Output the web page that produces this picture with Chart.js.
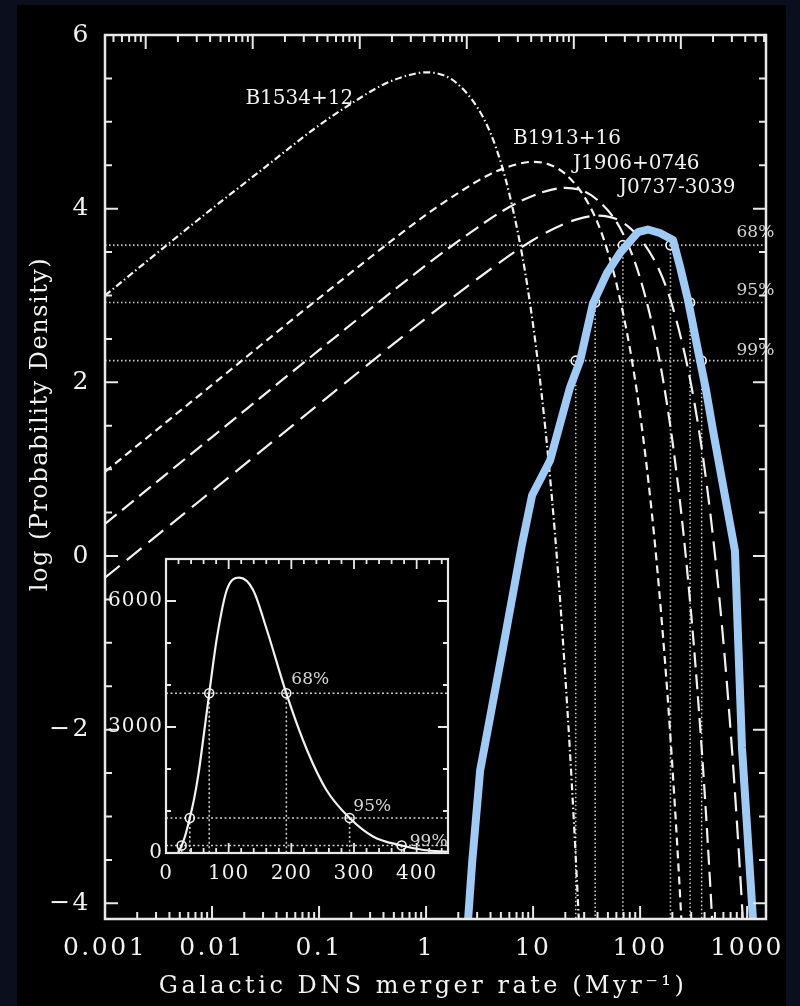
<!DOCTYPE html>
<html><head><meta charset="utf-8">
<script src="https://cdn.jsdelivr.net/npm/chart.js@4.4.1/dist/chart.umd.min.js"></script>
<style>
html,body{margin:0;padding:0;background:#0b0f1d;width:800px;height:1006px;overflow:hidden;}
#bg{position:absolute;left:17px;top:5px;width:769px;height:1001px;background:#000;}
#main{position:absolute;left:0;top:0;}
#inset{position:absolute;left:100px;top:540px;}
</style></head><body>
<div id="bg"></div>
<canvas id="main" width="800" height="1006"></canvas>
<canvas id="inset" width="370" height="360"></canvas>
<script>
// ---------------- data ----------------
const rateTicks = [0.001, 0.01, 0.1, 1, 10, 100, 1000];
const logPTicks = [-4, -2, 0, 2, 4, 6];

const pulsarNames = ['B1534+12', 'B1913+16', 'J1906+0746', 'J0737-3039'];

const b1534Rate = [0.001,0.003,0.01,0.03,0.1,0.2,0.4,0.7,1,1.5,2,3,4,5,6,8,10,12,14,16,18,20,22,24,26,28];
const b1534LogP = [3.00,3.48,4.00,4.46,4.96,5.21,5.43,5.54,5.57,5.53,5.43,5.17,4.87,4.53,4.17,3.43,2.66,1.87,1.07,0.26,-0.56,-1.39,-2.21,-3.04,-3.88,-4.71];

const b1913Rate = [0.001,0.01,0.1,1,2,4,7,10,14,20,30,40,50,60,80,100,120,140,160,180,200,220,240,260];
const b1913LogP = [0.97,1.97,2.97,3.93,4.18,4.40,4.51,4.54,4.51,4.40,4.14,3.84,3.50,3.14,2.40,1.63,0.84,0.04,-0.78,-1.59,-2.42,-3.24,-4.07,-4.91];

const j1906Rate = [0.001,0.01,0.1,1,3,6,10,15,20,30,40,60,80,100,130,160,200,250,300,350,400,450,500];
const j1906LogP = [0.37,1.37,2.37,3.35,3.78,4.02,4.15,4.22,4.24,4.20,4.10,3.85,3.54,3.20,2.66,2.10,1.33,0.34,-0.67,-1.69,-2.71,-3.75,-4.79];

const j0737Rate = [0.001,0.01,0.1,1,3,10,20,30,40,60,80,100,150,200,300,400,500,600,700,800,900,1000];
const j0737LogP = [-0.25,0.75,1.75,2.74,3.19,3.64,3.83,3.90,3.92,3.88,3.78,3.66,3.30,2.88,1.97,1.01,0.02,-0.99,-2.01,-3.04,-4.07,-5.11];

const combinedRate = [2.47,2.69,3.20,5.25,7.89,9.79,14.4,22.1,27.5,36.3,49.1,64.9,95.5,118,153,203,236,280,347,413,479,769,895,1133];
const combinedLogP = [-4.18,-3.54,-2.47,-1.05,0.14,0.70,1.10,1.94,2.25,2.91,3.26,3.49,3.73,3.76,3.72,3.64,3.33,2.95,2.37,1.91,1.45,0.06,-2.21,-4.18];

const levelNames = ['68%', '95%', '99%'];
const levelLogP = [3.58, 2.92, 2.25];
const levelDensity = [3802, 832, 178];
const levelLowRate = [69, 38, 25];
const levelHighRate = [192, 293, 376];

const insetRate = [20,25,30,38,45,52,60,69,81,97,117,139,161,192,225,256,293,331,376,411,450];
const insetDensity = [20,178,380,832,1300,1900,2780,3802,5100,6262,6555,6262,5310,3802,2452,1500,832,388,178,71,30];
const insetRateTicks = [0, 100, 200, 300, 400];
const insetDensityTicks = [0, 3000, 6000];

// ---------------- styling / layout ----------------
const WHITE = '#f2f2f2';
const DOT = '#cacaca';
const BLUE = '#9ecbf6';
const FONT = '"DejaVu Serif", serif';
const TOP_SHIFT = 2.4;   // top-axis tick offset factor
const RATE_MIN = 0.001, RATE_MAX = 1500, LOGP_MIN = -4.18, LOGP_MAX = 6;
const curveLabelPos = [[0.0205, 5.26], [6.5, 4.81], [23.6, 4.52], [63.5, 4.24]];
const levelLabelRate = 796;
const levelLabelLogP = [3.72, 3.06, 2.37];
const insetLabelPos = [[200, 4119], [299, 1107], [389, 274]];

const pts = (xs, ys) => xs.map((x, i) => ({x: x, y: ys[i]}));
Chart.defaults.font.family = FONT;
Chart.defaults.color = WHITE;

function curve(rate, logp, dash, order) {
  return {data: pts(rate, logp), borderColor: WHITE, borderWidth: 2.2, borderDash: dash,
          pointRadius: 0, cubicInterpolationMode: 'monotone', fill: false, order: order};
}

const mainDatasets = [
  {data: pts(combinedRate, combinedLogP), borderColor: BLUE, borderWidth: 8, tension: 0,
   pointRadius: 0, borderJoinStyle: 'round', borderCapStyle: 'round', order: 0},
  {data: pts(levelLowRate.concat(levelHighRate), levelLogP.concat(levelLogP)), showLine: false,
   pointRadius: 4.5, pointBorderColor: WHITE, pointBorderWidth: 1.6,
   pointBackgroundColor: 'rgba(0,0,0,0)', order: 1},
  curve(b1534Rate, b1534LogP, [7, 3, 1.5, 3], 2),
  curve(b1913Rate, b1913LogP, [8, 5], 2),
  curve(j1906Rate, j1906LogP, [15, 7], 2),
  curve(j0737Rate, j0737LogP, [19, 9], 2)
];
levelLogP.forEach((lp) => {
  mainDatasets.push({data: [{x: RATE_MIN, y: lp}, {x: RATE_MAX, y: lp}], borderColor: DOT,
    borderWidth: 1.6, borderDash: [1.5, 2.5], pointRadius: 0, order: 3});
});
levelLogP.forEach((lp, i) => {
  [levelLowRate[i], levelHighRate[i]].forEach((r) => {
    mainDatasets.push({data: [{x: r, y: lp}, {x: r, y: LOGP_MIN}], borderColor: DOT,
      borderWidth: 1.6, borderDash: [1.5, 2.5], pointRadius: 0, order: 3});
  });
});

const mainDeco = {
  id: 'mainDeco',
  beforeDraw(chart) { chart.ctx.letterSpacing = '2.5px'; },
  afterDatasetsDraw(chart) {
    const {ctx, scales: {x, y}} = chart;
    ctx.save();
    ctx.letterSpacing = '0px';
    ctx.fillStyle = WHITE;
    ctx.font = '20px ' + FONT;
    ctx.textAlign = 'left'; ctx.textBaseline = 'middle';
    pulsarNames.forEach((n, i) => {
      ctx.fillText(n, x.getPixelForValue(curveLabelPos[i][0]), y.getPixelForValue(curveLabelPos[i][1]));
    });
    ctx.fillStyle = '#d2d2d2';
    ctx.font = '17px ' + FONT;
    levelNames.forEach((n, i) => {
      ctx.fillText(n, x.getPixelForValue(levelLabelRate), y.getPixelForValue(levelLabelLogP[i]));
    });
    ctx.restore();
  },
  afterDraw(chart) {
    const {ctx, chartArea: a, scales: {x, y}} = chart;
    ctx.save();
    ctx.letterSpacing = '0px';
    ctx.strokeStyle = '#e8e8e8';
    ctx.lineWidth = 2;
    ctx.beginPath();
    const tk = (px, py, dx, dy) => { ctx.moveTo(px, py); ctx.lineTo(px + dx, py + dy); };
    for (let k = -4; k <= 3; k++) {
      for (let m = 1; m <= 9; m++) {
        const v = m * Math.pow(10, k);
        if (v >= RATE_MIN && v <= RATE_MAX) tk(x.getPixelForValue(v), a.bottom, 0, m === 1 ? -13 : -7);
        const vt = v * TOP_SHIFT;
        if (vt >= RATE_MIN && vt <= RATE_MAX) tk(x.getPixelForValue(vt), a.top, 0, m === 1 ? 14 : 7);
      }
    }
    for (let v = -4; v <= 6; v += 0.5) {
      const py = y.getPixelForValue(v);
      const L = (v % 2 === 0) ? 13 : 7;
      tk(a.left, py, L, 0); tk(a.right, py, -L, 0);
    }
    ctx.stroke();
    ctx.lineWidth = 2.5;
    ctx.strokeRect(a.left, a.top, a.right - a.left, a.bottom - a.top);
    // axis titles
    ctx.fillStyle = WHITE;
    ctx.font = '24px ' + FONT;
    ctx.textAlign = 'center'; ctx.textBaseline = 'alphabetic';
    ctx.letterSpacing = '3.5px';
    ctx.fillText('Galactic DNS merger rate (Myr\u207B\u00B9)', 423, 993);
    ctx.letterSpacing = '1.5px';
    ctx.translate(47, 424);
    ctx.rotate(-Math.PI / 2);
    ctx.fillText('log (Probability Density)', 0, 0);
    ctx.restore();
    ctx.letterSpacing = '0px';
  }
};

new Chart(document.getElementById('main'), {
  type: 'line',
  data: {datasets: mainDatasets},
  options: {
    responsive: false, animation: false, events: [],
    layout: {padding: {top: 35, right: 34, left: 0, bottom: 0}},
    plugins: {legend: {display: false}, tooltip: {enabled: false}},
    scales: {
      x: {type: 'logarithmic', min: RATE_MIN, max: RATE_MAX,
          grid: {display: false, drawTicks: false}, border: {display: false},
          ticks: {color: WHITE, font: {size: 25}, padding: 14, autoSkip: false, maxRotation: 0,
                  callback: (v) => String(v)},
          afterBuildTicks: (s) => { s.ticks = rateTicks.map((v) => ({value: v})); },
          afterFit: (s) => { s.height = 87; }},
      y: {type: 'linear', min: LOGP_MIN, max: LOGP_MAX,
          grid: {display: false, drawTicks: false}, border: {display: false},
          ticks: {color: WHITE, font: {size: 25}, padding: 14,
                  callback: (v) => (v < 0 ? '\u2212' + (-v) : String(v))},
          afterBuildTicks: (s) => { s.ticks = logPTicks.map((v) => ({value: v})); },
          afterFit: (s) => { s.width = 105; }}
    }
  },
  plugins: [mainDeco]
});

// ---------------- inset ----------------
const insetDatasets = [
  {data: pts(insetRate, insetDensity), borderColor: WHITE, borderWidth: 2.2, pointRadius: 0,
   cubicInterpolationMode: 'monotone', order: 1},
  {data: pts(levelLowRate.concat(levelHighRate), levelDensity.concat(levelDensity)), showLine: false,
   pointRadius: 4.5, pointBorderColor: WHITE, pointBorderWidth: 1.6,
   pointBackgroundColor: 'rgba(0,0,0,0)', order: 0}
];
levelDensity.forEach((d) => {
  insetDatasets.push({data: [{x: 0, y: d}, {x: 450, y: d}], borderColor: DOT, borderWidth: 1.6,
    borderDash: [2, 2.5], pointRadius: 0, order: 2});
});
levelDensity.forEach((d, i) => {
  [levelLowRate[i], levelHighRate[i]].forEach((r) => {
    insetDatasets.push({data: [{x: r, y: d}, {x: r, y: 0}], borderColor: DOT, borderWidth: 1.6,
      borderDash: [2, 2.5], pointRadius: 0, order: 2});
  });
});

const insetDeco = {
  id: 'insetDeco',
  beforeDraw(chart) {
    const {ctx, chartArea: a} = chart;
    ctx.save(); ctx.fillStyle = '#000';
    ctx.fillRect(a.left, a.top, a.right - a.left, a.bottom - a.top); ctx.restore();
    ctx.letterSpacing = '1px';
  },
  afterDatasetsDraw(chart) {
    const {ctx, scales: {x, y}} = chart;
    ctx.save();
    ctx.letterSpacing = '0px';
    ctx.fillStyle = '#d6d6d6';
    ctx.font = '17px ' + FONT;
    ctx.textAlign = 'left'; ctx.textBaseline = 'middle';
    levelNames.forEach((n, i) => {
      ctx.fillText(n, x.getPixelForValue(insetLabelPos[i][0]), y.getPixelForValue(insetLabelPos[i][1]));
    });
    ctx.restore();
  },
  afterDraw(chart) {
    const {ctx, chartArea: a, scales: {x, y}} = chart;
    ctx.save();
    ctx.strokeStyle = '#e8e8e8';
    ctx.lineWidth = 1.8;
    ctx.beginPath();
    const tk = (px, py, dx, dy) => { ctx.moveTo(px, py); ctx.lineTo(px + dx, py + dy); };
    for (let v = 0; v <= 450; v += 20) {
      const px = x.getPixelForValue(v);
      const L = (v % 100 === 0) ? 10 : 5;
      tk(px, a.bottom, 0, -L); tk(px, a.top, 0, L);
    }
    for (let v = 0; v <= 7000; v += 1000) {
      const py = y.getPixelForValue(v);
      const L = (v % 3000 === 0) ? 10 : 5;
      tk(a.left, py, L, 0); tk(a.right, py, -L, 0);
    }
    ctx.stroke();
    ctx.lineWidth = 2.2;
    ctx.strokeRect(a.left, a.top, a.right - a.left, a.bottom - a.top);
    ctx.restore();
    ctx.letterSpacing = '0px';
  }
};

new Chart(document.getElementById('inset'), {
  type: 'line',
  data: {datasets: insetDatasets},
  options: {
    responsive: false, animation: false, events: [],
    layout: {padding: {top: 19, right: 22, left: 0, bottom: 0}},
    plugins: {legend: {display: false}, tooltip: {enabled: false}},
    scales: {
      x: {type: 'linear', min: 0, max: 450,
          grid: {display: false, drawTicks: false}, border: {display: false},
          ticks: {color: WHITE, font: {size: 20}, padding: 9, autoSkip: false, maxRotation: 0},
          afterBuildTicks: (s) => { s.ticks = insetRateTicks.map((v) => ({value: v})); },
          afterFit: (s) => { s.height = 47; }},
      y: {type: 'linear', min: 0, max: 7000,
          grid: {display: false, drawTicks: false}, border: {display: false},
          ticks: {color: WHITE, font: {size: 20}, padding: 3, callback: (v) => String(v)},
          afterBuildTicks: (s) => { s.ticks = insetDensityTicks.map((v) => ({value: v})); },
          afterFit: (s) => { s.width = 66; }}
    }
  },
  plugins: [insetDeco]
});
</script>
</body></html>
